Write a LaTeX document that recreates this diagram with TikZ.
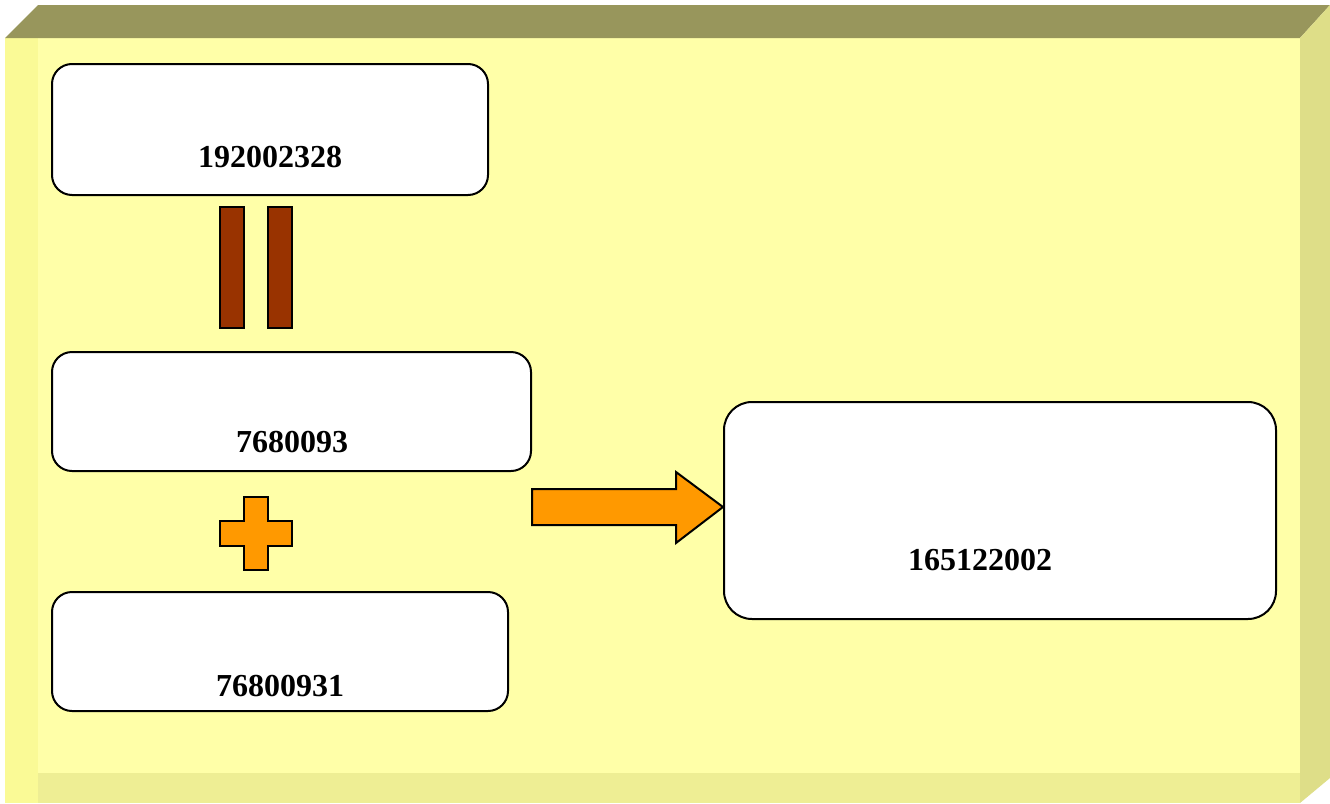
\documentclass[tikz,border=0pt]{standalone}
\usepackage{fontspec}
\setmainfont{Liberation Serif}
\usepackage{xcolor}
\usepackage{tikz}

\definecolor{topface}{RGB}{152,150,92}
\definecolor{sideface}{RGB}{222,222,136}
\definecolor{frontface}{RGB}{255,255,168}
\definecolor{edgeband}{RGB}{250,250,150}
\definecolor{footband}{RGB}{238,238,148}
\definecolor{barbrown}{RGB}{153,51,0}
\definecolor{plusorange}{RGB}{255,153,0}

\tikzset{
  numbox/.style={draw=black, line width=1.5pt, fill=white, rounded corners=15pt, inner sep=0pt},
  numtxt/.style={anchor=base, inner sep=0.75pt, font=\fontsize{24}{28}\selectfont\bfseries},
  solid shape/.style={draw=black, line width=1.5pt}
}

\begin{document}
\begin{tikzpicture}[x=0.75pt,y=0.75pt,yscale=-1,xscale=1]
\useasboundingbox (0,0) rectangle (1330,803);

% bevelled panel
\fill[frontface] (5,38) rectangle (1300,803);
\fill[edgeband] (5,38) rectangle (38,803);
\fill[footband] (38,773) rectangle (1300,803);
\fill[topface] (5,38) -- (38,5) -- (1330,5) -- (1300,38) -- cycle;
\fill[sideface] (1300,38) -- (1330,5) -- (1330,778) -- (1300,803) -- cycle;

% number boxes
\node[numbox, minimum width=327pt, minimum height=98.25pt] (top) at (270,129.5) {};
\node[numbox, minimum width=359.25pt, minimum height=89.25pt] (mid) at (291.5,411.5) {};
\node[numbox, minimum width=342pt, minimum height=89.25pt] (low) at (280,651.5) {};
\node[numbox, rounded corners=21pt, minimum width=414pt, minimum height=162.75pt] (res) at (1000,510.5) {};

\node[numtxt] (topnum) at (270,167) {192002328};
\node[numtxt] (midnum) at (292,452) {7680093};
\node[numtxt] (lownum) at (280,696) {76800931};
\node[numtxt] (resnum) at (980,570) {165122002};

% equals sign
\draw[solid shape, fill=barbrown] (220,207) rectangle (244,328);
\draw[solid shape, fill=barbrown] (268,207) rectangle (292,328);

% plus sign
\draw[solid shape, fill=plusorange] (244,497) -- (268,497) -- (268,521) -- (292,521) -- (292,546) -- (268,546) -- (268,570) -- (244,570) -- (244,546) -- (220,546) -- (220,521) -- (244,521) -- cycle;

% block arrow
\coordinate (tip) at (res.west |- 0,507);
\draw[solid shape, fill=plusorange] (532,489) -- (676,489) -- (676,472) -- (tip) -- (676,543) -- (676,525) -- (532,525) -- cycle;

\end{tikzpicture}
\end{document}
